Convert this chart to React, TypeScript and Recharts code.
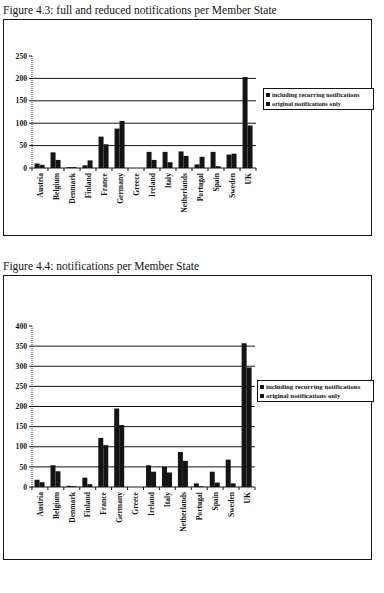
import { Bar, BarChart, XAxis, YAxis, CartesianGrid } from "recharts"

const countries = [
  "Austria", "Belgium", "Denmark", "Finland", "France", "Germany", "Greece",
  "Ireland", "Italy", "Netherlands", "Portugal", "Spain", "Sweden", "UK",
]

// Figure 4.3
const fig43Including = [10, 35, 2, 6, 70, 88, 0, 36, 36, 37, 8, 36, 30, 203]
const fig43Original = [7, 18, 2, 17, 53, 105, 0, 18, 13, 27, 25, 4, 32, 95]
const fig43Ticks = [0, 50, 100, 150, 200, 250]

// Figure 4.4
const fig44Including = [18, 54, 3, 23, 122, 195, 0, 54, 50, 87, 9, 38, 68, 357]
const fig44Original = [12, 39, 2, 7, 104, 154, 0, 38, 36, 65, 2, 11, 9, 297]
const fig44Ticks = [0, 50, 100, 150, 200, 250, 300, 350, 400]

const legendLabels = ["including recurring notifications", "original notifications only"]

const INK = "#141414"
const FONT = "'Liberation Serif', 'Times New Roman', serif"

function CountryTick(props: any) {
  const { x, y, payload } = props
  return (
    <g>
      <line x1={x - 8} y1={y - 5} x2={x - 8} y2={y - 2} stroke={INK} />
      {payload.index === countries.length - 1 && (
        <line x1={x + 8} y1={y - 5} x2={x + 8} y2={y - 2} stroke={INK} />
      )}
      <text
        x={x + 2.7}
        y={y}
        transform={`rotate(-90, ${x + 2.7}, ${y})`}
        textAnchor="end"
        fontSize={7.6}
        fontWeight="bold"
        fontFamily={FONT}
        fill={INK}
      >
        {payload.value}
      </text>
    </g>
  )
}

function Legend({ left, top, width, fontSize }: any) {
  return (
    <div
      style={{
        position: "absolute",
        left,
        top,
        width,
        border: `1px solid ${INK}`,
        padding: "1px 2px",
        fontFamily: FONT,
        fontSize,
        fontWeight: "bold",
        color: INK,
        lineHeight: "9px",
        background: "#fff",
      }}
    >
      {legendLabels.map((l) => (
        <div key={l} style={{ display: "flex", alignItems: "center", gap: 2 }}>
          <span style={{ width: 4, height: 4, background: INK, display: "inline-block" }} />
          <span style={{ whiteSpace: "nowrap" }}>{l}</span>
        </div>
      ))}
    </div>
  )
}

function Figure({ top, height, including, original, ticks, margin }: any) {
  const data = countries.map((c, i) => ({
    country: c,
    including: including[i],
    original: original[i],
  }))
  const max = ticks[ticks.length - 1]
  return (
    <div style={{ position: "absolute", left: 0, top }}>
      <BarChart width={384} height={height} data={data} margin={margin} barGap={0} barCategoryGap="16%">
        <CartesianGrid
          vertical={false}
          horizontalValues={ticks.slice(1, -1)}
          stroke={INK}
          strokeWidth={1}
        />
        <XAxis
          dataKey="country"
          interval={0}
          height={40}
          tickLine={false}
          tickSize={3}
          tickMargin={2}
          axisLine={{ stroke: INK }}
          tick={<CountryTick />}
        />
        <YAxis
          width={30}
          domain={[0, max]}
          ticks={ticks}
          interval={0}
          tickSize={3}
          tickMargin={2}
          axisLine={{ stroke: "#333", strokeDasharray: "1 1" }}
          tickLine={{ stroke: INK }}
          tick={{ fontSize: 7.6, fontWeight: "bold", fontFamily: FONT, fill: INK }}
        />
        <Bar dataKey="including" fill={INK} isAnimationActive={false} />
        <Bar dataKey="original" fill={INK} isAnimationActive={false} />
      </BarChart>
    </div>
  )
}

export default function App() {
  const title = { position: "absolute" as const, left: 3, fontFamily: FONT, fontSize: 11.5, color: INK, whiteSpace: "nowrap" as const }
  const box = { position: "absolute" as const, left: 3, border: `1.5px solid ${INK}`, boxSizing: "border-box" as const }
  return (
    <div style={{ position: "absolute", left: 0, top: 0, width: 384, height: 593, background: "#fff", overflow: "hidden" }}>
      <div style={{ ...title, top: 4 }}>Figure 4.3: full and reduced notifications per Member State</div>
      <div style={{ ...box, top: 19, width: 369, height: 217 }} />
      <Figure
        top={0}
        height={240}
        including={fig43Including}
        original={fig43Original}
        ticks={fig43Ticks}
        margin={{ top: 56, right: 128, left: 2, bottom: 32 }}
      />
      <Legend left={263} top={88} width={105} fontSize={6.3} />

      <div style={{ ...title, top: 260 }}>Figure 4.4: notifications per Member State</div>
      <div style={{ ...box, top: 275, width: 369, height: 285 }} />
      <Figure
        top={240}
        height={320}
        including={fig44Including}
        original={fig44Original}
        ticks={fig44Ticks}
        margin={{ top: 86, right: 129, left: 2, bottom: 33 }}
      />
      <Legend left={257} top={380} width={111} fontSize={6.8} />
    </div>
  )
}
